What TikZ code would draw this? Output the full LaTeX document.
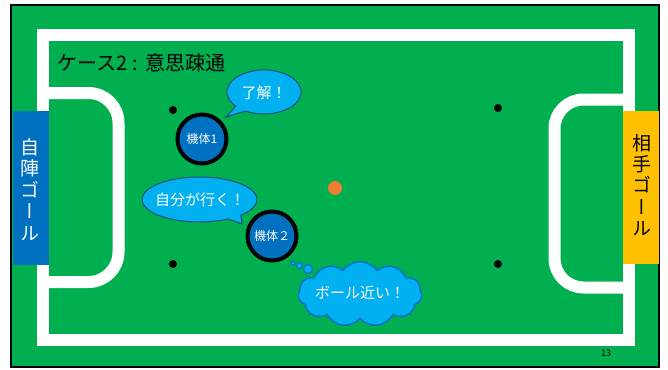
\documentclass[tikz,border=0pt]{standalone}
\usepackage{fontspec}
\usepackage{graphicx}
\setmainfont{Noto Sans CJK JP}
\newfontfamily\vertfont[RawFeature=+vert]{Noto Sans CJK JP}
\usetikzlibrary{shapes.symbols,calc}
\definecolor{pitch}{HTML}{00AF50}
\definecolor{goalblue}{HTML}{0070C0}
\definecolor{goalorange}{HTML}{FFC000}
\definecolor{ballorange}{HTML}{ED7D31}
\definecolor{bubblefill}{HTML}{00B0F0}
\definecolor{bubbleline}{HTML}{1F4E79}
\definecolor{cloudline}{HTML}{0070C0}
\tikzset{
  fieldline/.style={draw=white, line width=12pt},
  spot/.style={circle, fill=black, inner sep=0pt, minimum size=8pt},
  robot/.style={circle, fill=goalblue, draw=black, line width=4pt, minimum size=49pt, inner sep=0pt, text=white, font=\fontsize{12}{13}\selectfont},
  bubble/.style={fill=bubblefill, draw=bubbleline, line width=1pt},
  bubbletext/.style={text=white, font=\fontsize{15}{17}\selectfont, inner sep=0pt},
  goaltext/.style={align=center, font=\vertfont\fontsize{19}{21.4}\selectfont, inner sep=0pt},
  thought/.style={circle, fill=bubblefill, draw=cloudline, line width=1.2pt, inner sep=0pt}
}
\begin{document}
\begin{tikzpicture}[x=1pt,y=-1pt]
\useasboundingbox (0,0) rectangle (668,369);
% pitch
\draw[fill=pitch, draw=black, line width=2pt] (11,5) rectangle (659,367);
% boundary lines
\draw[fieldline] (43,35) rectangle (629,339.5);
% penalty areas
\draw[fieldline, rounded corners=30pt] (43,93) -| (118.5,282) -- (43,282);
\draw[fieldline, rounded corners=29pt] (629,99.5) -| (554.5,287.5) -- (629,287.5);
% goals
\node[fill=goalblue, minimum width=36pt, minimum height=154pt, inner sep=0pt] (owngoal) at (31,188) {};
\node[fill=goalorange, minimum width=36pt, minimum height=153pt, inner sep=0pt] (oppgoal) at (641,187.5) {};
\node[goaltext, text=white] (owngoaltext) at (30,189.5) {自\\陣\\ゴ\\ー\\ル};
\node[goaltext, text=black] (oppgoaltext) at (642,185) {相\\手\\ゴ\\ー\\ル};
% spots
\node[spot] (s1) at (173,110) {};
\node[spot] (s2) at (498,108) {};
\node[spot] (s3) at (173,264) {};
\node[spot] (s4) at (498,264) {};
% ball
\node[circle, fill=ballorange, minimum size=14pt, inner sep=0pt] (ball) at (335,188) {};
% title
\node[anchor=west, inner sep=0pt, font=\fontsize{20}{22}\selectfont] (title) at (57,63) {ケース2\hspace{5pt}:\hspace{8pt}意思疎通};
% robots
\node[robot] (r1) at (202,139) {機体1};
\node[robot] (r2) at (272,236) {機体２};
% speech bubble 1
\coordinate (c1) at (264,92);
\coordinate (tip1) at (226,117);
\draw[bubble] ($(c1)+(220:37pt and 22pt)$) arc[start angle=220, end angle=-120, x radius=37pt, y radius=22pt] -- (tip1) -- cycle;
\node[bubbletext] (t1) at (264,93) {了解！};
% speech bubble 2
\coordinate (c2) at (199.5,199.5);
\coordinate (tip2) at (242,224);
\draw[bubble] ($(c2)+(-60:57.5pt and 22.5pt)$) arc[start angle=-60, end angle=-404, x radius=57.5pt, y radius=22.5pt] -- (tip2) -- cycle;
\node[bubbletext] (t2) at (200,200) {自分が行く！};
% thought cloud
\node[cloud, cloud puffs=11, cloud puff arc=110, aspect=2, fill=bubblefill, draw=cloudline, line width=1.5pt, minimum width=124pt, minimum height=65pt, inner sep=0pt] (cloud) at (360,294) {};
\node[bubbletext] (t3) at (360,293) {ボール近い！};
\node[thought, minimum size=4pt] (th1) at (293,263) {};
\node[thought, minimum size=6pt] (th2) at (299.5,265.5) {};
\node[thought, minimum size=9pt] (th3) at (308,269) {};
% page number
\node[font=\fontsize{9}{10}\selectfont, inner sep=0pt] (pagenum) at (606,353) {13};
\end{tikzpicture}
\end{document}
